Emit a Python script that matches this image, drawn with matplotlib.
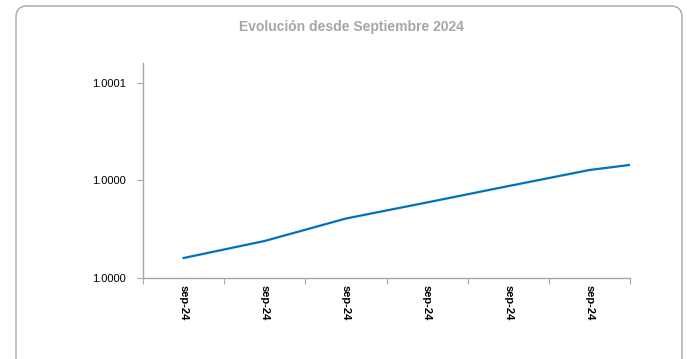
import matplotlib
matplotlib.use('Agg')
import matplotlib.pyplot as plt
from matplotlib.patches import FancyBboxPatch
from matplotlib.ticker import FixedLocator, FuncFormatter

plt.rcParams['font.family'] = ['Liberation Sans', 'DejaVu Sans']

# data
title = 'Evolución desde Septiembre 2024'
x_pos = [0.5, 1.5, 2.5, 3.5, 4.5, 5.5, 6.0]
values = [1.0000082, 1.0000152, 1.0000244, 1.0000310, 1.0000377, 1.0000443, 1.0000464]
cat_labels = ['sep-24'] * 6
y_ticks = [1.0, 1.00004, 1.00008]

fig = plt.figure(figsize=(6.87, 3.59), dpi=100)

# rounded frame around the chart
frame = FancyBboxPatch((16/687, -0.2), 666/687, 1.2 - 6/359,
                       boxstyle='round,pad=0,rounding_size=0.016',
                       transform=fig.transFigure, facecolor='none',
                       edgecolor='#a6a6a6', linewidth=1.0, mutation_aspect=687/359)
fig.patches.append(frame)

ax = fig.add_axes([143/687, 1 - 278/359, (630 - 143)/687, (278 - 63)/359])
ax.plot(x_pos, values, color='#0070c0', linewidth=1.6)

ax.set_xlim(0, 6)
ax.set_ylim(1.0, 1.0000882)

for s in ['top', 'right']:
    ax.spines[s].set_visible(False)
for s in ['left', 'bottom']:
    ax.spines[s].set_color('#a6a6a6')
    ax.spines[s].set_linewidth(1.0)

ax.set_yticks(y_ticks)
ax.yaxis.set_major_formatter(FuncFormatter(lambda v, p: '%.4f' % v))
ax.tick_params(axis='y', length=4, color='#a6a6a6', labelsize=8, pad=8)

ax.xaxis.set_major_locator(FixedLocator(range(0, 7)))
ax.xaxis.set_major_formatter(FuncFormatter(lambda v, p: ''))
ax.xaxis.set_minor_locator(FixedLocator([i + 0.5 for i in range(6)]))
ax.set_xticklabels(cat_labels, minor=True, rotation=270, fontweight='bold', fontsize=8)
ax.tick_params(axis='x', which='major', length=4, color='#a6a6a6')
ax.tick_params(axis='x', which='minor', length=0, pad=5)

fig.text(351.5/687, 1 - 27/359, title, ha='center', va='center', color='#a6a6a6',
         fontsize=10, fontweight='bold')

fig.savefig('out.png', dpi=100)
